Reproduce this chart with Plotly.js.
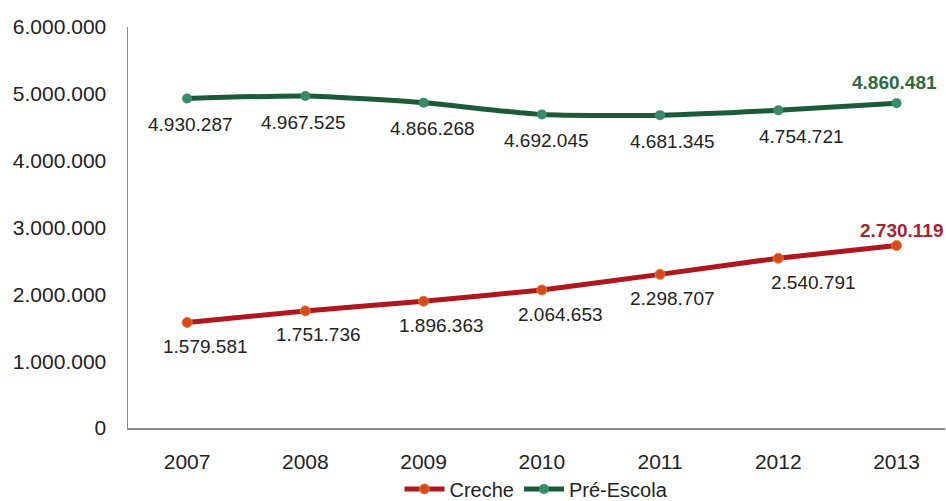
<!DOCTYPE html>
<html>
<head>
<meta charset="utf-8">
<script src="https://cdn.plot.ly/plotly-3.0.1.min.js"></script>
<style>
  html, body { margin: 0; padding: 0; background: #ffffff; }
  #chart { width: 946px; height: 501px; }
</style>
</head>
<body>
<div id="chart"></div>
<script>
// ---- data ----
const years = [2007, 2008, 2009, 2010, 2011, 2012, 2013];
const yearLabels = ["2007", "2008", "2009", "2010", "2011", "2012", "2013"];
const creche = [1579581, 1751736, 1896363, 2064653, 2298707, 2540791, 2730119];
const preEscola = [4930287, 4967525, 4866268, 4692045, 4681345, 4754721, 4860481];
const yTicks = [0, 1000000, 2000000, 3000000, 4000000, 5000000, 6000000];
const seriesNames = ["Creche", "Pré-Escola"];

// label nudges (layout only)
const crecheDx = [18, 13, 18, 19, 12, 35, 5];
const preDx = [3, -2, 9, 5, 12, 23, -2];

function fmt(v) {
  return String(v).replace(/\B(?=(\d{3})+(?!\d))/g, ".");
}

const FONT = "Liberation Sans, Arial, sans-serif";
const RED_LINE = "#b0171c", RED_MARK = "#d8491c", RED_TXT = "#a8222c";
const GRN_LINE = "#1b5b38", GRN_MARK = "#3a8a6c", GRN_TXT = "#2d6b43";

const traces = [
  {
    x: years, y: creche, name: seriesNames[0], type: "scatter", mode: "lines+markers",
    line: { color: RED_LINE, width: 5, shape: "spline", smoothing: 0.3 },
    marker: { color: RED_MARK, size: 10, line: { color: "#e07a3a", width: 1 } },
    hoverinfo: "skip"
  },
  {
    x: years, y: preEscola, name: seriesNames[1], type: "scatter", mode: "lines+markers",
    line: { color: GRN_LINE, width: 5, shape: "spline", smoothing: 0.6 },
    marker: { color: GRN_MARK, size: 10 },
    hoverinfo: "skip"
  }
];

const annotations = [];
years.forEach((yr, i) => {
  const last = i === years.length - 1;
  annotations.push({
    x: yr, y: creche[i], xref: "x", yref: "y", text: last ? "<b>" + fmt(creche[i]) + "</b>" : fmt(creche[i]),
    showarrow: false, xshift: crecheDx[i], yshift: last ? 15 : -24,
    font: { family: FONT, size: 19, color: last ? RED_TXT : "#222222" }
  });
  annotations.push({
    x: yr, y: preEscola[i], xref: "x", yref: "y", text: last ? "<b>" + fmt(preEscola[i]) + "</b>" : fmt(preEscola[i]),
    showarrow: false, xshift: preDx[i], yshift: last ? 21 : -26,
    font: { family: FONT, size: 19, color: last ? GRN_TXT : "#222222" }
  });
});

const layout = {
  width: 946, height: 501,
  margin: { l: 128, r: 1, t: 27, b: 73, pad: 0, autoexpand: false },
  paper_bgcolor: "#ffffff", plot_bgcolor: "#ffffff",
  separators: ",.",
  font: { family: FONT, size: 21, color: "#222222" },
  showlegend: true,
  legend: {
    orientation: "h", x: 0.5, xanchor: "center", y: -0.152, yanchor: "middle",
    bgcolor: "rgba(0,0,0,0)",
    font: { family: FONT, size: 20, color: "#222222" },
    itemwidth: 40, tracegroupgap: 0
  },
  xaxis: {
    range: [2006.5, 2013.41], tickvals: years, ticktext: yearLabels,
    showgrid: false, zeroline: false, showline: true, linecolor: "#8c8c8c", linewidth: 1.5,
    ticks: "", ticklabelstandoff: 14,
    tickfont: { family: FONT, size: 21, color: "#222222" }, fixedrange: true
  },
  yaxis: {
    range: [0, 6000000], tickvals: yTicks, ticktext: yTicks.map(fmt),
    showgrid: false, zeroline: false, showline: true, linecolor: "#8c8c8c", linewidth: 1.5,
    ticks: "", ticklabelstandoff: 16,
    tickfont: { family: FONT, size: 21, color: "#222222" }, fixedrange: true
  },
  annotations: annotations
};

Plotly.newPlot("chart", traces, layout, { displayModeBar: false, staticPlot: true });
</script>
</body>
</html>
